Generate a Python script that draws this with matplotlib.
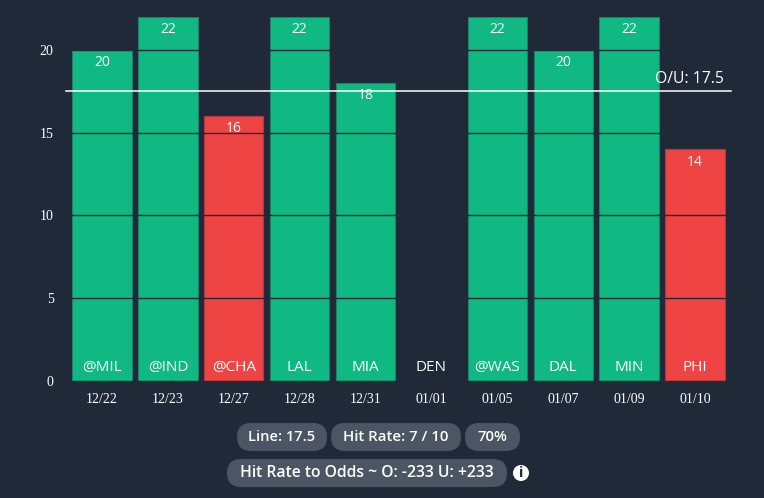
import matplotlib.pyplot as plt
from matplotlib.patches import Circle, FancyBboxPatch

dates = ["12/22", "12/23", "12/27", "12/28", "12/31", "01/01", "01/05", "01/07", "01/09", "01/10"]
opponents = ["@MIL", "@IND", "@CHA", "LAL", "MIA", "DEN", "@WAS", "DAL", "MIN", "PHI"]
values = [20, 22, 16, 22, 18, 0, 22, 20, 22, 14]
line_value = 17.5

BG = "#1f2937"
GREEN = "#10b981"
RED = "#ef4444"
CHIP = "#4b5563"
SANS = ["Open Sans", "DejaVu Sans"]
SERIF = "Liberation Serif"

W, H = 764, 498
fig = plt.figure(figsize=(W / 100, H / 100), dpi=100, facecolor=BG)

# plot area, in pixels of the reference
left, right, top, bottom = 69, 728, 16.8, 380.8
ax = fig.add_axes([left / W, 1 - bottom / H, (right - left) / W, (bottom - top) / H])
ax.set_facecolor(BG)

x = list(range(len(values)))
colors = [GREEN if v > line_value else RED for v in values]
edges = ["#1d7f6c" if v > line_value else "#b03a44" for v in values]
ax.bar(x, values, width=0.9, color=colors, edgecolor=edges, linewidth=0.8, zorder=2)

ax.set_xlim(-0.5, len(values) - 0.5)
ax.set_ylim(0, 22)
ax.set_yticks([0, 5, 10, 15, 20])
ax.set_xticks(x, dates)
ax.grid(axis="y", color=BG, linewidth=1, zorder=3)
ax.set_axisbelow(False)
ax.tick_params(length=0, colors="white", labelsize=10, labelfontfamily=SERIF)
ax.tick_params(axis="x", pad=8.5)
ax.tick_params(axis="y", pad=11)
for side in ax.spines.values():
    side.set_visible(False)

for i, v in enumerate(values):
    ax.annotate(opponents[i], (i, 0), xytext=(0, 9.5), textcoords="offset points",
                ha="center", va="center", color="white", fontsize=11,
                family=SANS, zorder=5)
    if v > 0:
        ax.annotate(str(v), (i, v), xytext=(0, -9.3), textcoords="offset points",
                    ha="center", va="center", color="white", fontsize=10,
                    family=SANS, zorder=5)

# the O/U line runs a little past the plot area on both sides
ax.plot([-0.0045, 1.0045], [line_value, line_value], color="white", linewidth=1.1,
        transform=ax.get_yaxis_transform(), clip_on=False, zorder=4)
ax.annotate(f"O/U: {line_value}", (1, line_value), xycoords=("axes fraction", "data"),
            xytext=(-3, 8.5), textcoords="offset points", ha="right", va="center",
            color="white", fontsize=11.3, family=SANS, zorder=5)

# summary chips under the chart, laid out in pixels
over = fig.add_axes([0, 0, 1, 1])
over.set_xlim(0, W)
over.set_ylim(H, 0)
over.axis("off")
over.patch.set_alpha(0)

hits = sum(v > line_value for v in values)
odds = round(100 * hits / (len(values) - hits))
chips = [
    (237, 327, 423, 451, f"Line: {line_value}", 10.5),
    (331, 461, 423, 451, f"Hit Rate: {hits} / {len(values)}", 10.8),
    (465, 520, 423, 451, f"{100 * hits // len(values)}%", 10.8),
    (227, 507, 459, 487, f"Hit Rate to Odds ~ O: -{odds} U: +{odds}", 11.3),
]
for x0, x1, y0, y1, label, size in chips:
    r = (y1 - y0) / 2
    over.add_patch(FancyBboxPatch((x0 + r, y0 + r), x1 - x0 - 2 * r, 0,
                                  boxstyle=f"round,pad={r},rounding_size={r}",
                                  facecolor=CHIP, edgecolor="none"))
    over.text((x0 + x1) / 2, (y0 + y1) / 2, label, ha="center", va="center",
              color="white", fontsize=size, fontweight="semibold", family=SANS)

over.add_patch(Circle((521, 473), 8, facecolor="white", edgecolor="none"))
over.text(521, 473, "i", ha="center", va="center", color=BG, fontsize=10.5,
          fontweight="bold", family=SANS)

fig.savefig("out.png", dpi=100, facecolor=BG)
